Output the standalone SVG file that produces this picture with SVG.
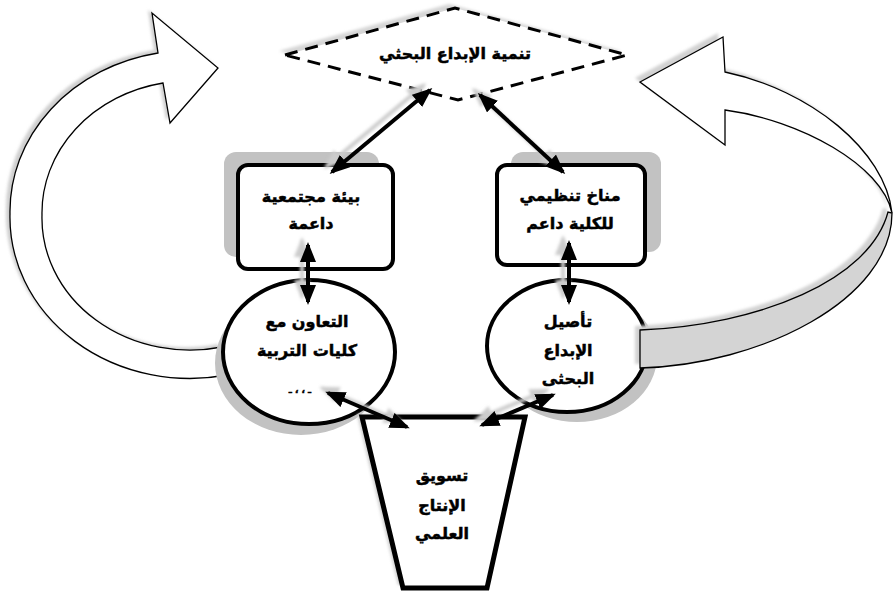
<svg xmlns="http://www.w3.org/2000/svg" width="893" height="596" viewBox="0 0 893 596">
<defs>
<style>
.t{font-family:"DejaVu Sans","Noto Sans",sans-serif;font-weight:bold;font-size:16px;fill:#000;stroke:#000;stroke-width:0.5;text-anchor:middle}
.node{fill:#fff;stroke:#000;stroke-width:4}
.sh{fill:#c2c2c2;stroke:none}
.big{fill:#fff;stroke:#000;stroke-width:1.3}
.con{stroke:#000;stroke-width:4;fill:none;marker-start:url(#ah);marker-end:url(#ah)}
.cons{stroke:#cccccc;stroke-width:4;fill:none;marker-start:url(#ahs);marker-end:url(#ahs)}
</style>
<filter id="blur" x="-10%" y="-10%" width="120%" height="120%"><feGaussianBlur stdDeviation="1.5"/></filter>
<marker id="ah" viewBox="0 0 20 16" refX="17" refY="8" markerWidth="20" markerHeight="16" markerUnits="userSpaceOnUse" orient="auto-start-reverse"><path d="M0,0 L20,8 L0,16 Z" fill="#000"/></marker>
<marker id="ahs" viewBox="0 0 20 16" refX="17" refY="8" markerWidth="20" markerHeight="16" markerUnits="userSpaceOnUse" orient="auto-start-reverse"><path d="M0,0 L20,8 L0,16 Z" fill="#cccccc"/></marker>
</defs>
<rect width="893" height="596" fill="#fff"/>

<g id="loop-left">
<path transform="translate(-4,-3)" filter="url(#blur)" fill="#cfcfcf" d="M227,375 A180,161 0 0 1 10,214 A180,161 0 0 1 158,53 L152,13 L218,68 L170,123 L163,83 A148,132 0 0 0 42,215 A148,132 0 0 0 222,347 Z"/>
<path class="big" d="M227,375 A180,161 0 0 1 10,214 A180,161 0 0 1 158,53 L152,13 L218,68 L170,123 L163,83 A148,132 0 0 0 42,215 A148,132 0 0 0 222,347 Z"/>
</g>

<g id="top">
<polygon transform="translate(-6,-4)" filter="url(#blur)" fill="#d6d6d6" points="285,55 455,8 627,55 458,100"/>
<polygon points="285,55 455,8 627,55 458,100" fill="#fff" stroke="#000" stroke-width="3" stroke-dasharray="13,8"/>
<text class="t" x="455" y="59">تنمية الإبداع البحثي</text>
</g>

<g id="env">
<rect class="sh" x="224" y="152" width="155" height="105" rx="12"/>
<rect class="node" x="238" y="165" width="155" height="104" rx="10"/>
<text class="t" x="311" y="202">بيئة مجتمعية</text>
<text class="t" x="311" y="229">داعمة</text>
</g>

<g id="climate">
<rect class="sh" x="511" y="152" width="150" height="100" rx="12"/>
<rect class="node" x="497" y="165" width="148" height="100" rx="10"/>
<text class="t" x="570" y="201">مناخ تنظيمي</text>
<text class="t" x="570" y="229">للكلية داعم</text>
</g>

<g id="coop">
<ellipse class="sh" cx="301" cy="363" rx="86" ry="72"/>
<ellipse class="node" cx="309" cy="352" rx="86" ry="72"/>
<text class="t" x="307" y="327">التعاون مع</text>
<text class="t" x="307" y="356">كليات التربية</text>
<text class="t" x="300" y="393" style="font-size:9px">ـ ، ، ـ</text>
</g>

<g id="rooting">
<ellipse class="sh" cx="577" cy="356" rx="80" ry="66"/>
<ellipse class="node" cx="567" cy="346" rx="80" ry="66"/>
<text class="t" x="568" y="327">تأصيل</text>
<text class="t" x="568" y="356">الإبداع</text>
<text class="t" x="568" y="384">البحثى</text>
</g>

<g id="marketing">
<polygon transform="translate(-5,-3)" filter="url(#blur)" fill="#cfcfcf" points="362,417 525,417 487,588 403,588"/>
<polygon points="362,417 525,417 487,588 403,588" fill="#fff" stroke="#000" stroke-width="5"/>
<text class="t" x="442" y="481">تسويق</text>
<text class="t" x="442" y="511">الإنتاج</text>
<text class="t" x="442" y="539">العلمي</text>
</g>

<g id="loop-right">
<g transform="translate(-5,-4)" filter="url(#blur)" fill="#d2d2d2">
<path d="M640,82 L723,37 L725,72 C810,90 885,150 892,213 C882,165 800,120 725,110 L725,145 Z"/>
<path d="M892,213 C892,300 760,365 640,368 L640,330 C760,325 870,280 888,212 Z"/>
</g>
<path class="big" d="M640,82 L723,37 L725,72 C810,90 885,150 892,213 C882,165 800,120 725,110 L725,145 Z"/>
<path d="M892,213 C892,300 760,365 640,368 L640,330 C760,325 870,280 888,212 Z" fill="#d4d4d4" stroke="#000" stroke-width="1.3"/>
</g>

<g id="connectors">
<g transform="translate(-6,-5)" filter="url(#blur)">
<line class="cons" x1="430" y1="90" x2="332" y2="172"/>
<line class="cons" x1="480" y1="95" x2="563" y2="172"/>
<line class="cons" x1="308" y1="245" x2="308" y2="302"/>
<line class="cons" x1="569" y1="243" x2="569" y2="302"/>
<line class="cons" x1="328" y1="393" x2="407" y2="427"/>
<line class="cons" x1="553" y1="395" x2="482" y2="425"/>
</g>
<line class="con" x1="430" y1="90" x2="332" y2="172"/>
<line class="con" x1="480" y1="95" x2="563" y2="172"/>
<line class="con" x1="308" y1="245" x2="308" y2="302"/>
<line class="con" x1="569" y1="243" x2="569" y2="302"/>
<line class="con" x1="328" y1="393" x2="407" y2="427"/>
<line class="con" x1="553" y1="395" x2="482" y2="425"/>
</g>
</svg>
